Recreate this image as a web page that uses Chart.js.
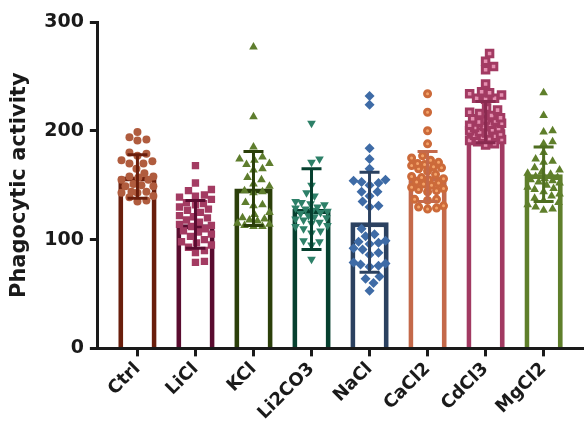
<!DOCTYPE html>
<html>
<head>
<meta charset="utf-8">
<script src="https://cdn.jsdelivr.net/npm/chart.js@4"></script>
<style>
  body { margin: 0; background: #fff; }
  #wrap { width: 584px; height: 432px; }
</style>
</head>
<body>
<div id="wrap"><canvas id="myChart" width="584" height="432"></canvas></div>
<script>
// group names on the x axis
const categories = ['Ctrl', 'LiCl', 'KCl', 'Li2CO3', 'NaCl', 'CaCl2', 'CdCl3', 'MgCl2'];
// bar height (mean) and error bar (SD) per group
const means = [158, 114, 147, 128, 116, 158, 208, 160];
const sds = [20, 22, 34, 37, 46, 23, 19, 25];
const yTicks = [0, 100, 200, 300];

const ctrlVals = [199, 194, 192, 191, 180, 179, 177, 173, 172, 170, 170, 165, 161, 158, 158, 157, 155, 155, 151, 150, 149, 149, 144, 144, 143, 143, 140, 139, 136, 135];
const liclVals = [168, 152, 146, 145, 141, 140, 139, 137, 134, 133, 132, 130, 128, 127, 125, 122, 121, 120, 118, 116, 114, 113, 112, 110, 108, 107, 105, 103, 100, 98, 97, 95, 93, 90, 88, 80, 79];
const kclVals = [277, 213, 185, 176, 174, 173, 170, 169, 165, 164, 157, 155, 151, 149, 145, 144, 143, 134, 132, 131, 125, 123, 120, 119, 118, 117, 115, 114, 113, 112, 112];
const li2co3Vals = [207, 174, 171, 150, 143, 140, 135, 134, 133, 132, 130, 129, 128, 127, 126, 125, 124, 122, 121, 120, 119, 118, 116, 115, 113, 112, 110, 108, 106, 99, 98, 95, 82];
const naclVals = [232, 224, 184, 174, 165, 155, 154, 153, 152, 150, 144, 144, 140, 135, 131, 130, 110, 105, 103, 99, 98, 97, 96, 92, 91, 88, 86, 79, 78, 77, 76, 75, 66, 64, 60, 53];
const cacl2Vals = [234, 217, 200, 188, 177, 175, 173, 171, 170, 169, 168, 167, 166, 165, 163, 160, 158, 157, 156, 155, 153, 152, 151, 150, 148, 147, 146, 145, 144, 137, 137, 136, 131, 130, 129, 128];
const cdcl3Vals = [271, 264, 259, 256, 243, 236, 235, 234, 233, 230, 230, 229, 221, 219, 217, 216, 214, 212, 211, 210, 209, 208, 207, 206, 205, 204, 203, 202, 201, 200, 199, 198, 197, 196, 195, 194, 193, 192, 191, 190, 188, 187];
const mgcl2Vals = [235, 214, 200, 199, 190, 188, 180, 174, 172, 171, 166, 164, 162, 161, 160, 158, 157, 156, 155, 154, 153, 152, 150, 148, 147, 146, 144, 142, 140, 138, 136, 134, 132, 130, 128, 127];
const groupVals = [ctrlVals, liclVals, kclVals, li2co3Vals, naclVals, cacl2Vals, cdcl3Vals, mgcl2Vals];

const barColors = ['#6a1e0c', '#5a0c30', '#2b3f0a', '#06402f', '#2b4160', '#c4694a', '#a23a62', '#5f7f2b'];
const dotColors = ['#b05c3e', '#a33b62', '#5e7d2d', '#2d8068', '#3e6ba6', '#cc6a3a', '#a23a62', '#5f7f2b'];
const dotFill = [null, null, null, null, null, '#f4a46a', '#e58fb0', null];
const dotStyles = ['circle', 'rect', 'triangle', 'triangle', 'rectRot', 'circle', 'rect', 'triangle'];
const dotRotation = [0, 0, 0, 180, 0, 0, 0, 0];
const errColors = ['#6a1e0c', '#5a0c30', '#2b3f0a', '#06402f', '#2b4160', '#c4694a', '#8a2a50', '#4f6e20'];

const ink = '#1a1a1a';
const font = 'DejaVu Sans';

// simple beeswarm: spread dots sideways so they don't overlap (approx px scale)
const pxPerX = 58.2, pxPerY = 1.08, dotSize = 8.5, maxShift = 16;
function swarm(vals, center) {
  const placed = [];
  const out = [];
  vals.slice().sort((a, b) => a - b).forEach(v => {
    const py = v * pxPerY;
    let pick = 0, bestGap = -1;
    for (let k = 0; k <= maxShift * 2; k++) {
      const off = (k % 2 ? 1 : -1) * Math.ceil(k / 2);
      let gap = Infinity;
      placed.forEach(p => {
        const d = Math.hypot(p.x - off, p.y - py);
        if (d < gap) gap = d;
      });
      if (gap >= dotSize) { pick = off; bestGap = gap; break; }
      if (gap > bestGap) { bestGap = gap; pick = off; }
    }
    placed.push({ x: pick, y: py });
    out.push({ x: center + pick / pxPerX, y: v });
  });
  return out;
}

const dotSets = groupVals.map((vals, i) => {
  const hollow = dotFill[i] !== null;
  return {
    type: 'scatter',
    data: swarm(vals, i),
    pointStyle: dotStyles[i],
    rotation: dotRotation[i],
    pointRadius: hollow ? (dotStyles[i] === 'rect' ? 4.6 : 3) : (dotStyles[i] === 'circle' ? 4 : (dotStyles[i] === 'rect' ? 5.2 : 5)),
    pointBackgroundColor: hollow ? dotFill[i] : dotColors[i],
    pointBorderColor: dotColors[i],
    pointBorderWidth: hollow ? 3 : 0,
    pointHoverRadius: 4,
    order: 1
  };
});

// error bars (mean ± SD) drawn on top of bars and dots
const errorBars = {
  id: 'errorBars',
  afterDatasetsDraw(chart) {
    const { ctx, scales: { x, y } } = chart;
    ctx.save();
    ctx.lineWidth = 3;
    ctx.lineCap = 'butt';
    means.forEach((m, i) => {
      const cx = x.getPixelForValue(i);
      const top = y.getPixelForValue(m + sds[i]);
      const bot = y.getPixelForValue(m - sds[i]);
      ctx.strokeStyle = errColors[i];
      ctx.beginPath();
      ctx.moveTo(cx, top); ctx.lineTo(cx, bot);
      ctx.moveTo(cx - 10, top); ctx.lineTo(cx + 10, top);
      ctx.moveTo(cx - 10, bot); ctx.lineTo(cx + 10, bot);
      ctx.stroke();
    });
    // x axis line runs on to the right edge of the picture
    const a = chart.chartArea;
    const ay = Math.round(x.top - 1.5) + 1.5;
    ctx.strokeStyle = ink;
    ctx.beginPath();
    ctx.moveTo(a.right - 2, ay);
    ctx.lineTo(chart.width, ay);
    ctx.stroke();
    ctx.restore();
  }
};

const chart = new Chart(document.getElementById('myChart'), {
  type: 'bar',
  data: {
    datasets: [{
      type: 'bar',
      data: means.map((m, i) => ({ x: i, y: m })),
      backgroundColor: '#ffffff',
      borderColor: barColors,
      borderWidth: 5,
      borderSkipped: 'start',
      categoryPercentage: 1,
      barPercentage: 0.66,
      order: 10
    }, ...dotSets]
  },
  options: {
    responsive: false,
    animation: false,
    devicePixelRatio: 1,
    layout: { padding: { top: 22, right: 0, left: 7, bottom: 6 } },
    plugins: { legend: { display: false }, tooltip: { enabled: false } },
    scales: {
      x: {
        type: 'linear',
        offset: false,
        min: -0.682,
        max: 7.565,
        afterBuildTicks: axis => { axis.ticks = categories.map((c, i) => ({ value: i })); },
        ticks: {
          autoSkip: false,
          minRotation: 45,
          maxRotation: 45,
          color: ink,
          padding: 2,
          font: { family: font, size: 18, weight: 'bold' },
          callback: v => categories[v]
        },
        grid: { offset: false, drawOnChartArea: false, drawTicks: true, tickLength: 8, lineWidth: 3, color: ink },
        border: { display: true, width: 3, color: ink }
      },
      y: {
        min: 0,
        max: 300,
        afterBuildTicks: axis => { axis.ticks = yTicks.map(v => ({ value: v })); },
        ticks: {
          color: ink,
          padding: 6,
          font: { family: font, size: 19, weight: 'bold' }
        },
        grid: { drawOnChartArea: false, drawTicks: true, tickLength: 8, lineWidth: 3, color: ink },
        border: { display: true, width: 3, color: ink },
        title: {
          display: true,
          text: 'Phagocytic activity',
          color: ink,
          padding: { top: 0, bottom: 6 },
          font: { family: font, size: 21, weight: 'bold' }
        }
      }
    }
  },
  plugins: [errorBars]
});
</script>
</body>
</html>
